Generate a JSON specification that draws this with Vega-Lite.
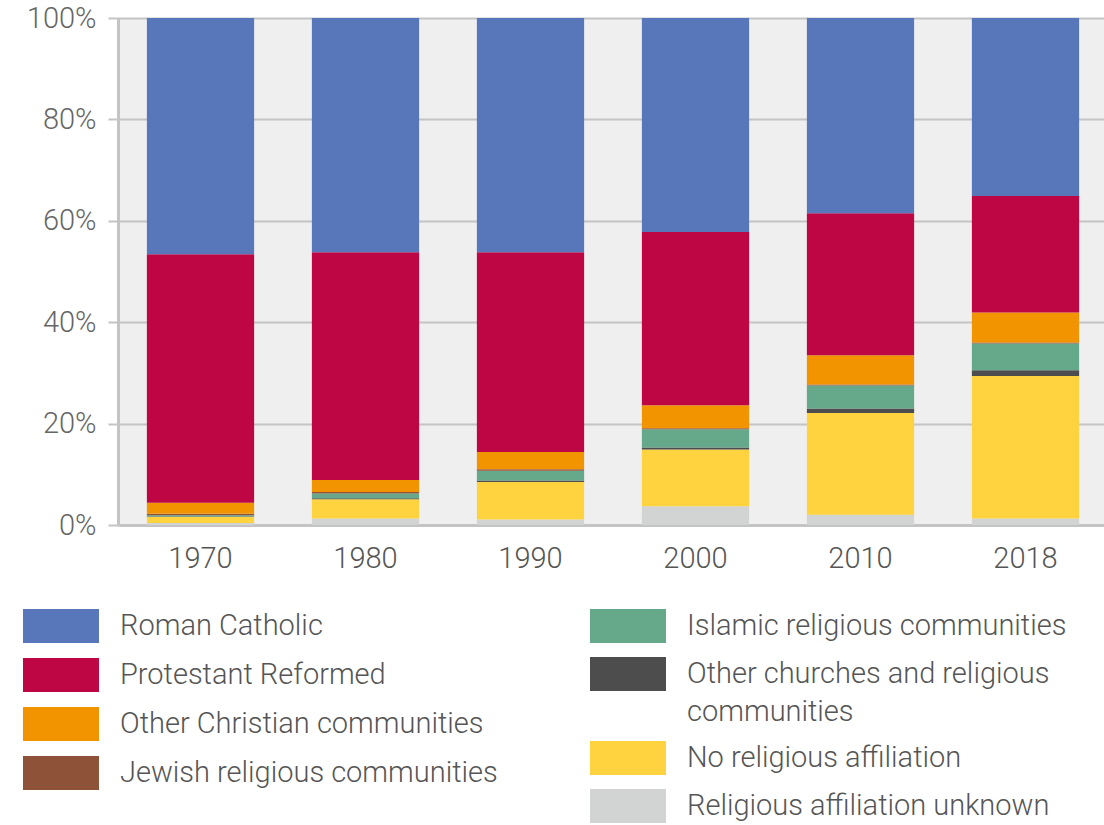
{
  "$schema": "https://vega.github.io/schema/vega-lite/v6.json",
  "width": 990,
  "height": 507,
  "autosize": {"type": "none"},
  "padding": {"left": 118, "top": 18, "right": 0, "bottom": 300},
  "background": "white",
  "config": {
    "view": {"fill": "#efefef", "stroke": null},
    "font": "Roboto",
    "legend": {"padding": 0}
  },
  "datasets": {
    "share": [
      {"year": "1970", "religion": "Religious affiliation unknown", "pct": 0.4},
      {"year": "1970", "religion": "No religious affiliation", "pct": 1.2},
      {"year": "1970", "religion": "Other churches and religious communities", "pct": 0.1},
      {"year": "1970", "religion": "Islamic religious communities", "pct": 0.2},
      {"year": "1970", "religion": "Jewish religious communities", "pct": 0.3},
      {"year": "1970", "religion": "Other Christian communities", "pct": 2.2},
      {"year": "1970", "religion": "Protestant Reformed", "pct": 49.0},
      {"year": "1970", "religion": "Roman Catholic", "pct": 46.6},
      {"year": "1980", "religion": "Religious affiliation unknown", "pct": 1.3},
      {"year": "1980", "religion": "No religious affiliation", "pct": 3.8},
      {"year": "1980", "religion": "Other churches and religious communities", "pct": 0.2},
      {"year": "1980", "religion": "Islamic religious communities", "pct": 0.9},
      {"year": "1980", "religion": "Jewish religious communities", "pct": 0.3},
      {"year": "1980", "religion": "Other Christian communities", "pct": 2.4},
      {"year": "1980", "religion": "Protestant Reformed", "pct": 44.9},
      {"year": "1980", "religion": "Roman Catholic", "pct": 46.2},
      {"year": "1990", "religion": "Religious affiliation unknown", "pct": 1.1},
      {"year": "1990", "religion": "No religious affiliation", "pct": 7.4},
      {"year": "1990", "religion": "Other churches and religious communities", "pct": 0.3},
      {"year": "1990", "religion": "Islamic religious communities", "pct": 1.9},
      {"year": "1990", "religion": "Jewish religious communities", "pct": 0.3},
      {"year": "1990", "religion": "Other Christian communities", "pct": 3.4},
      {"year": "1990", "religion": "Protestant Reformed", "pct": 39.4},
      {"year": "1990", "religion": "Roman Catholic", "pct": 46.2},
      {"year": "2000", "religion": "Religious affiliation unknown", "pct": 3.7},
      {"year": "2000", "religion": "No religious affiliation", "pct": 11.2},
      {"year": "2000", "religion": "Other churches and religious communities", "pct": 0.4},
      {"year": "2000", "religion": "Islamic religious communities", "pct": 3.6},
      {"year": "2000", "religion": "Jewish religious communities", "pct": 0.2},
      {"year": "2000", "religion": "Other Christian communities", "pct": 4.5},
      {"year": "2000", "religion": "Protestant Reformed", "pct": 34.2},
      {"year": "2000", "religion": "Roman Catholic", "pct": 42.2},
      {"year": "2010", "religion": "Religious affiliation unknown", "pct": 2.0},
      {"year": "2010", "religion": "No religious affiliation", "pct": 20.1},
      {"year": "2010", "religion": "Other churches and religious communities", "pct": 0.9},
      {"year": "2010", "religion": "Islamic religious communities", "pct": 4.5},
      {"year": "2010", "religion": "Jewish religious communities", "pct": 0.2},
      {"year": "2010", "religion": "Other Christian communities", "pct": 5.8},
      {"year": "2010", "religion": "Protestant Reformed", "pct": 28.0},
      {"year": "2010", "religion": "Roman Catholic", "pct": 38.5},
      {"year": "2018", "religion": "Religious affiliation unknown", "pct": 1.3},
      {"year": "2018", "religion": "No religious affiliation", "pct": 28.1},
      {"year": "2018", "religion": "Other churches and religious communities", "pct": 1.1},
      {"year": "2018", "religion": "Islamic religious communities", "pct": 5.3},
      {"year": "2018", "religion": "Jewish religious communities", "pct": 0.2},
      {"year": "2018", "religion": "Other Christian communities", "pct": 5.9},
      {"year": "2018", "religion": "Protestant Reformed", "pct": 23.0},
      {"year": "2018", "religion": "Roman Catholic", "pct": 35.1}
    ],
    "groups": [
      {"religion": "Religious affiliation unknown", "stack": 1},
      {"religion": "No religious affiliation", "stack": 2},
      {"religion": "Other churches and religious communities", "stack": 3},
      {"religion": "Islamic religious communities", "stack": 4},
      {"religion": "Jewish religious communities", "stack": 5},
      {"religion": "Other Christian communities", "stack": 6},
      {"religion": "Protestant Reformed", "stack": 7},
      {"religion": "Roman Catholic", "stack": 8}
    ]
  },
  "data": {"name": "share"},
  "transform": [
    {"lookup": "religion", "from": {"data": {"name": "groups"}, "key": "religion", "fields": ["stack"]}}
  ],
  "layer": [
    {
      "mark": {"type": "bar"},
      "encoding": {
        "x": {
          "field": "year",
          "type": "ordinal",
          "scale": {"paddingInner": 0.35, "paddingOuter": 0.175},
          "axis": {
            "title": null,
            "labelAngle": 0,
            "ticks": false,
            "domainColor": "#c4c4c4",
            "domainWidth": 3,
            "labelFontSize": 29,
            "labelFontWeight": 300,
            "labelColor": "#555555",
            "labelPadding": 19
          }
        },
        "y": {
          "field": "pct",
          "type": "quantitative",
          "stack": "zero",
          "scale": {"domain": [0, 100], "nice": false},
          "axis": {
            "title": null,
            "values": [0, 20, 40, 60, 80, 100],
            "labelExpr": "datum.value + '%'",
            "grid": true,
            "gridColor": "#c4c4c4",
            "gridWidth": 2,
            "domainColor": "#c4c4c4",
            "domainWidth": 3,
            "tickColor": "#c4c4c4",
            "tickSize": 10,
            "tickWidth": 2,
            "labelFontSize": 29,
            "labelFontWeight": 300,
            "labelColor": "#666666",
            "labelPadding": 12
          }
        },
        "color": {
          "field": "religion",
          "type": "nominal",
          "scale": {
            "domain": [
              "Religious affiliation unknown",
              "No religious affiliation",
              "Other churches and religious communities",
              "Islamic religious communities",
              "Jewish religious communities",
              "Other Christian communities",
              "Protestant Reformed",
              "Roman Catholic"
            ],
            "range": ["#d2d4d3", "#ffd33f", "#4d4d4d", "#66a98a", "#8e5238", "#f29400", "#bd0643", "#5877ba"]
          },
          "legend": {
            "orient": "none",
            "legendX": -74,
            "legendY": 591,
            "title": null,
            "values": ["Roman Catholic", "Protestant Reformed", "Other Christian communities", "Jewish religious communities"],
            "symbolType": "M-2.235,-1L2.235,-1L2.235,1L-2.235,1Z",
            "symbolSize": 1156,
            "symbolStrokeWidth": 0,
            "symbolOpacity": 1,
            "labelFontSize": 29,
            "labelFontWeight": 300,
            "labelColor": "#555555",
            "labelOffset": 42,
            "rowPadding": 15,
            "labelLimit": 600
          }
        },
        "order": {"field": "stack", "type": "quantitative", "sort": "ascending"}
      }
    },
    {
      "transform": [
        {"filter": {"field": "religion", "oneOf": ["Islamic religious communities", "Other churches and religious communities", "No religious affiliation", "Religious affiliation unknown"]}}
      ],
      "mark": {"type": "bar", "opacity": 0},
      "encoding": {
        "x": {"field": "year", "type": "ordinal"},
        "y": {"field": "pct", "type": "quantitative", "stack": "zero"},
        "fill": {
          "field": "religion",
          "type": "nominal",
          "scale": {
            "domain": ["Islamic religious communities", "Other churches and religious communities", "No religious affiliation", "Religious affiliation unknown"],
            "range": ["#66a98a", "#4d4d4d", "#ffd33f", "#d2d4d3"]
          },
          "legend": {
            "orient": "none",
            "legendX": 493,
            "legendY": 591,
            "title": null,
            "values": ["Islamic religious communities", "Other churches and religious communities", "No religious affiliation", "Religious affiliation unknown"],
            "labelExpr": "datum.label == 'Other churches and religious communities' ? ['Other churches and religious', 'communities'] : datum.label",
            "symbolType": "M-2.235,-1L2.235,-1L2.235,1L-2.235,1Z",
            "symbolSize": 1156,
            "symbolStrokeWidth": 0,
            "symbolOpacity": 1,
            "labelFontSize": 29,
            "labelFontWeight": 300,
            "labelColor": "#555555",
            "labelOffset": 42,
            "rowPadding": 14,
            "labelLimit": 600,
            "encode": {"labels": {"update": {"lineHeight": {"value": 38}}}}
          }
        }
      }
    }
  ]
}
